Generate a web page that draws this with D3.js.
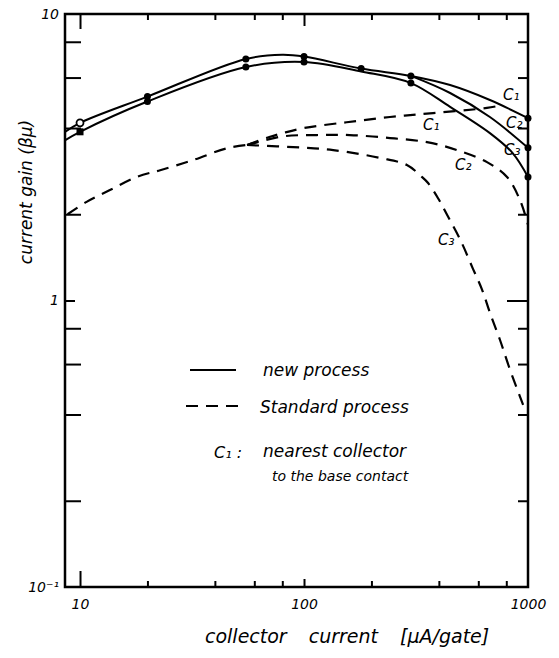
<!DOCTYPE html>
<html lang="en">
<head>
    <meta charset="UTF-8">
    <script src="https://d3js.org/d3.v7.min.js"></script>
    <title>Current gain vs collector current</title>
    <style>
        body { margin: 0; background: #fff; }
        text { font-family: "DejaVu Sans", sans-serif; font-style: italic; fill: #000; }
    </style>
</head>
<body>
    <div id="chart"></div>
    <script>
        // new process (solid)
        const newC1 = [[8.6, 3.88], [10, 4.17], [20, 5.15], [55, 6.97], [80, 7.2], [100, 7.1], [180, 6.45], [300, 6.08], [449, 5.65], [676, 5.01], [1000, 4.33]];
        const newC2 = [[300, 6.08], [449, 5.30], [676, 4.37], [1000, 3.41]];
        const newC3 = [[8.6, 3.63], [10, 3.88], [20, 4.95], [55, 6.53], [100, 6.8], [180, 6.3], [300, 5.74], [449, 4.74], [676, 3.84], [854, 3.27], [1000, 2.70]];
        const newDots = [[20, 5.15], [20, 4.95], [55, 6.97], [55, 6.53], [100, 7.1], [100, 6.8], [180, 6.45], [300, 6.08], [300, 5.74], [1000, 4.33], [1000, 3.41], [1000, 2.70]];
        const newOpen = [[10, 4.17]];
        const newSquare = [[10, 3.88]];

        // standard process (dashed)
        const stdCommon = [[8.8, 2.0], [10.7, 2.21], [13.6, 2.43], [17.9, 2.70], [22.8, 2.85], [31.9, 3.09], [45.3, 3.40], [55.7, 3.49]];
        const stdC1 = [[55.7, 3.49], [70, 3.72], [80.5, 3.84], [100, 4.0], [155, 4.19], [242, 4.37], [377, 4.51], [656, 4.70], [760, 4.80]];
        const stdC2 = [[55.7, 3.49], [80.5, 3.74], [114, 3.78], [160, 3.78], [242, 3.69], [354, 3.57], [482, 3.35], [656, 3.04], [806, 2.70], [921, 2.24], [1000, 1.84]];
        const stdC3 = [[55.7, 3.49], [96, 3.42], [135, 3.35], [221, 3.14], [288, 2.97], [336, 2.70], [358, 2.57], [396, 2.28], [440, 1.96], [502, 1.61], [568, 1.29], [624, 1.09], [677, 0.904], [750, 0.728], [832, 0.572], [951, 0.432]];

        const xTicks = [10, 20, 40, 60, 80, 100, 200, 400, 600, 800];
        const yTicks = [0.2, 0.4, 0.6, 0.8, 1, 2, 4, 6, 8];
        const xLabels = [10, 100, 1000];
        const yLabels = [0.1, 1, 10];

        const width = 559, height = 658;
        const plotLeft = 65, plotRight = 528, plotTop = 14, plotBottom = 587;

        const svg = d3.select("#chart").append("svg")
            .attr("width", width)
            .attr("height", height);

        const x = d3.scaleLog().domain([8.57, 1000]).range([plotLeft, plotRight]);
        const y = d3.scaleLog().domain([0.1, 10]).range([plotBottom, plotTop]);

        // inner ticks on all four sides
        svg.append("g").attr("transform", `translate(0,${plotBottom})`)
            .call(d3.axisBottom(x).tickValues(xTicks).tickSizeOuter(0).tickFormat(""))
            .call(g => g.selectAll(".tick line").attr("y2", d => d === 10 ? -16 : (d === 100 ? -8 : -6)));
        svg.append("g").attr("transform", `translate(0,${plotTop})`)
            .call(d3.axisTop(x).tickValues(xTicks).tickSizeOuter(0).tickFormat(""))
            .call(g => g.selectAll(".tick line").attr("y2", d => d === 10 ? 15 : (d === 100 ? 12 : 6)));
        svg.append("g").attr("transform", `translate(${plotLeft},0)`)
            .call(d3.axisLeft(y).tickValues(yTicks).tickSizeOuter(0).tickFormat(""))
            .call(g => g.selectAll(".tick line").attr("x2", d => d === 1 ? 10 : 16));
        svg.append("g").attr("transform", `translate(${plotRight},0)`)
            .call(d3.axisRight(y).tickValues(yTicks).tickSizeOuter(0).tickFormat(""))
            .call(g => g.selectAll(".tick line").attr("x2", d => d === 1 ? -21 : -10));
        svg.selectAll(".domain").remove();
        svg.selectAll(".tick line").attr("stroke", "#000").attr("stroke-width", 2);

        // tick labels
        svg.append("g").attr("transform", `translate(0,${plotBottom})`)
            .call(d3.axisBottom(x).tickValues(xLabels).tickSize(0).tickPadding(12).tickFormat(d3.format("d")))
            .call(g => g.select(".domain").remove())
            .call(g => g.selectAll("text").attr("font-size", 14).attr("font-family", "DejaVu Sans").attr("font-style", "italic"));
        svg.append("g").attr("transform", `translate(${plotLeft},0)`)
            .call(d3.axisLeft(y).tickValues(yLabels).tickSize(0).tickPadding(6)
                .tickFormat(d => d === 0.1 ? "10\u207B\u00B9" : d3.format("d")(d)))
            .call(g => g.select(".domain").remove())
            .call(g => g.selectAll("text").attr("font-size", 14).attr("font-family", "DejaVu Sans").attr("font-style", "italic"));

        // frame
        svg.append("rect")
            .attr("x", plotLeft).attr("y", plotTop)
            .attr("width", plotRight - plotLeft).attr("height", plotBottom - plotTop)
            .attr("fill", "none").attr("stroke", "#000").attr("stroke-width", 2.5);

        const line = d3.line()
            .x(d => x(d[0]))
            .y(d => y(d[1]))
            .curve(d3.curveCatmullRom);

        [newC1, newC2, newC3].forEach(s => {
            svg.append("path").datum(s)
                .attr("d", line)
                .attr("fill", "none").attr("stroke", "#000").attr("stroke-width", 2);
        });

        [stdCommon, stdC1, stdC2, stdC3].forEach(s => {
            svg.append("path").datum(s)
                .attr("d", line)
                .attr("fill", "none").attr("stroke", "#000").attr("stroke-width", 2.2)
                .attr("stroke-dasharray", "12,8");
        });

        svg.selectAll(".dot").data(newDots).join("circle")
            .attr("cx", d => x(d[0])).attr("cy", d => y(d[1])).attr("r", 3.5).attr("fill", "#000");
        svg.selectAll(".open").data(newOpen).join("circle")
            .attr("cx", d => x(d[0])).attr("cy", d => y(d[1])).attr("r", 3.5)
            .attr("fill", "#fff").attr("stroke", "#000").attr("stroke-width", 1.8);
        svg.selectAll(".sq").data(newSquare).join("rect")
            .attr("x", d => x(d[0]) - 3.5).attr("y", d => y(d[1]) - 3.5)
            .attr("width", 7).attr("height", 7).attr("fill", "#000");

        // curve labels
        const curveLabels = [
            ["C\u2081", 503, 100], ["C\u2082", 506, 128], ["C\u2083", 504, 155],
            ["C\u2081", 423, 130], ["C\u2082", 455, 170], ["C\u2083", 438, 245]
        ];
        svg.selectAll(".clab").data(curveLabels).join("text")
            .attr("x", d => d[1]).attr("y", d => d[2])
            .attr("font-size", 15).text(d => d[0]);

        // legend
        svg.append("line").attr("x1", 190).attr("x2", 236).attr("y1", 370).attr("y2", 370)
            .attr("stroke", "#000").attr("stroke-width", 2);
        svg.append("line").attr("x1", 186).attr("x2", 238).attr("y1", 406).attr("y2", 406)
            .attr("stroke", "#000").attr("stroke-width", 2).attr("stroke-dasharray", "12,8");
        svg.append("text").attr("x", 263).attr("y", 376).attr("font-size", 17).text("new process");
        svg.append("text").attr("x", 260).attr("y", 413).attr("font-size", 17).text("Standard process");
        svg.append("text").attr("x", 214).attr("y", 458).attr("font-size", 16).text("C\u2081 :");
        svg.append("text").attr("x", 263).attr("y", 457).attr("font-size", 17).text("nearest collector");
        svg.append("text").attr("x", 272).attr("y", 481).attr("font-size", 14).text("to the base contact");

        // axis titles
        svg.append("text").attr("x", 205).attr("y", 643)
            .attr("font-size", 19).attr("word-spacing", 16)
            .text("collector current [\u03BCA/gate]");
        svg.append("text").attr("transform", "translate(32,192) rotate(-90)")
            .attr("text-anchor", "middle").attr("font-size", 17).text("current  gain (\u03B2\u03BC)");
    </script>
</body>
</html>
